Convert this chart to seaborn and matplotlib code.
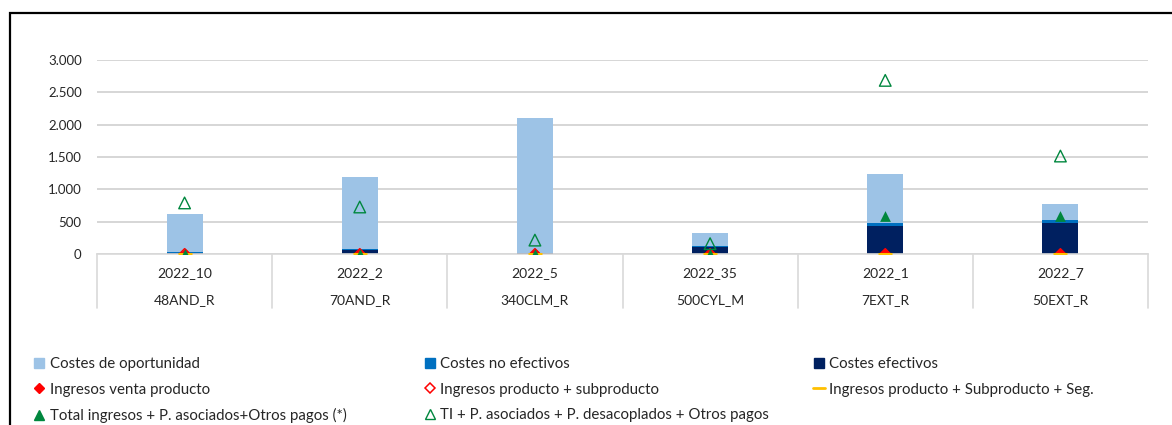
import numpy as np
import pandas as pd
import matplotlib
matplotlib.use("Agg")
import matplotlib.pyplot as plt
import seaborn as sns
from matplotlib.patches import Rectangle
from matplotlib.lines import Line2D
from matplotlib.ticker import FuncFormatter
import matplotlib.transforms as mtransforms

# ---- data ----
codes = ["2022_10", "2022_2", "2022_5", "2022_35", "2022_1", "2022_7"]
names = ["48AND_R", "70AND_R", "340CLM_R", "500CYL_M", "7EXT_R", "50EXT_R"]
costes_efectivos = [12, 55, 10, 110, 440, 485]
costes_no_efectivos = [18, 15, 12, 12, 45, 45]
costes_oportunidad = [590, 1122, 2083, 198, 758, 244]
ingresos_venta = [0, 0, 0, 0, 0, 0]
ingresos_subproducto = [0, 0, 0, 0, 0, 0]
ingresos_seg = [0, 0, 0, 0, 0, 0]
total_ingresos = [0, 0, 0, 0, 590, 590]
ti_desacoplados = [790, 727, 215, 160, 2685, 1515]
yticks = [0, 500, 1000, 1500, 2000, 2500, 3000]

C_OP = "#9DC3E6"
C_NOEF = "#0070C0"
C_EF = "#002060"
C_RED = "#FF0000"
C_YEL = "#FFC000"
C_GREEN = "#00873E"
TXT = "#262626"

sns.set_theme(style="white")
plt.rcParams["font.family"] = ["Lato", "DejaVu Sans"]

W, H = 1172, 425
fig = plt.figure(figsize=(W / 100, H / 100), dpi=100)
ax = fig.add_axes([97 / W, (H - 254) / H, (1148 - 97) / W, (254 - 60) / H])

df = pd.DataFrame({
    "code": codes,
    "ef": costes_efectivos,
    "noef": costes_no_efectivos,
    "op": costes_oportunidad,
})
df["lvl1"] = df["ef"]
df["lvl2"] = df["ef"] + df["noef"]
df["lvl3"] = df["lvl2"] + df["op"]

bw = 0.206
sns.barplot(data=df, x="code", y="lvl3", color=C_OP, width=bw, saturation=1,
            ax=ax, zorder=2, linewidth=0)
sns.barplot(data=df, x="code", y="lvl2", color=C_NOEF, width=bw, saturation=1,
            ax=ax, zorder=2, linewidth=0)
sns.barplot(data=df, x="code", y="lvl1", color=C_EF, width=bw, saturation=1,
            ax=ax, zorder=2, linewidth=0)

xpos = np.arange(len(codes))
ax.scatter(xpos, ingresos_venta, marker="D", s=38, color=C_RED, zorder=4, linewidths=0)
ax.scatter(xpos, ingresos_subproducto, marker="D", s=30, facecolors="none",
           edgecolors=C_RED, zorder=5, linewidths=1)
ax.scatter(xpos, ingresos_seg, marker="_", s=90, color=C_YEL, zorder=6, linewidths=2.2)
ax.scatter(xpos, total_ingresos, marker="^", s=60, color=C_GREEN, zorder=7, linewidths=0)
ax.scatter(xpos, ti_desacoplados, marker="^", s=70, facecolors="none",
           edgecolors=C_GREEN, zorder=8, linewidths=1)

ax.set_xlim(-0.5, len(codes) - 0.5)
ax.set_ylim(0, 3000)
ax.set_yticks(yticks)
ax.yaxis.set_major_formatter(FuncFormatter(lambda v, p: f"{int(v):,}".replace(",", ".")))
ax.tick_params(axis="y", length=0, pad=11, labelsize=9.5, labelcolor=TXT)
ax.set_xticks([])
ax.set_xlabel("")
ax.set_ylabel("")
ax.grid(axis="y", color="#d0d0d0", linewidth=1.2, zorder=0)
ax.set_axisbelow(True)
for s in ["left", "right", "top"]:
    ax.spines[s].set_visible(False)
ax.spines["bottom"].set_color("#d9d9d9")
ax.spines["bottom"].set_linewidth(1.2)

# category labels (two rows) with separators
trans = mtransforms.blended_transform_factory(ax.transData, ax.transAxes)
ah = 254 - 60
for i, (c, n) in enumerate(zip(codes, names)):
    ax.text(i, -(273 - 254) / ah, c, transform=trans, ha="center", va="center",
            fontsize=10, color=TXT)
    ax.text(i, -(300 - 254) / ah, n, transform=trans, ha="center", va="center",
            fontsize=10, color=TXT)
for b in np.arange(-0.5, len(codes), 1.0):
    ax.plot([b, b], [0, -(308 - 254) / ah], transform=trans, color="#d9d9d9",
            linewidth=1.2, clip_on=False)

# legends (three columns)
def sq(c):
    return Line2D([], [], marker="s", linestyle="none", markersize=6.5,
                  markerfacecolor=c, markeredgecolor=c)

cols = [
    [(sq(C_OP), "Costes de oportunidad"),
     (Line2D([], [], marker="D", linestyle="none", markersize=5, color=C_RED), "Ingresos venta producto"),
     (Line2D([], [], marker="^", linestyle="none", markersize=6.5, color=C_GREEN), "Total ingresos + P. asociados+Otros pagos (*)")],
    [(sq(C_NOEF), "Costes no efectivos"),
     (Line2D([], [], marker="D", linestyle="none", markersize=5, markerfacecolor="none",
             markeredgecolor=C_RED, markeredgewidth=1.1), "Ingresos producto + subproducto"),
     (Line2D([], [], marker="^", linestyle="none", markersize=7, markerfacecolor="none",
             markeredgecolor=C_GREEN, markeredgewidth=1), "TI + P. asociados + P. desacoplados + Otros pagos")],
    [(sq(C_EF), "Costes efectivos"),
     (Line2D([], [], color=C_YEL, linewidth=2), "Ingresos producto + Subproducto + Seg.")],
]
xs = [33, 423.5, 812.5]
for x0, items in zip(xs, cols):
    leg = fig.legend([h for h, _ in items], [l for _, l in items],
                     loc="upper left", bbox_to_anchor=(x0 / W, (H - 357) / H),
                     frameon=False, fontsize=10.8, handlelength=0.8, handletextpad=0.32,
                     borderpad=0, borderaxespad=0, labelspacing=0.78,
                     labelcolor=TXT)

# outer frame
fig.add_artist(Rectangle((10 / W, -0.2), 1.5, (H - 13) / H + 0.2, transform=fig.transFigure,
                         fill=False, edgecolor="black", linewidth=1.6))

fig.savefig("out.png", dpi=100)
